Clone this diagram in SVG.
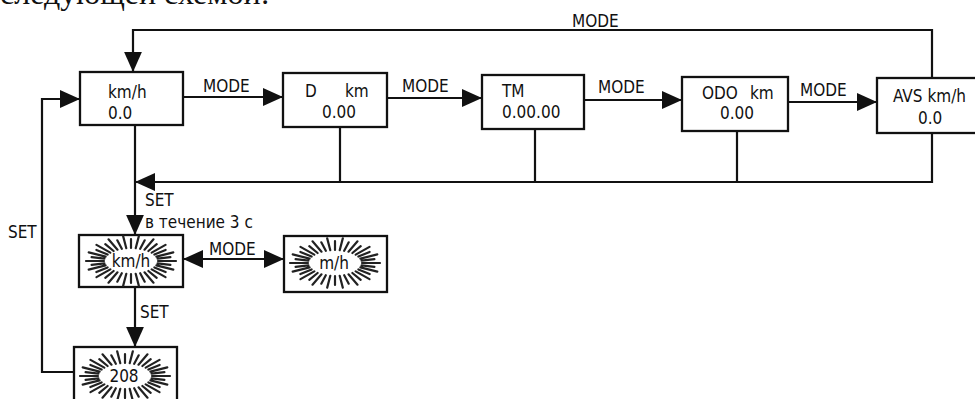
<svg xmlns="http://www.w3.org/2000/svg" width="975" height="399" viewBox="0 0 975 399">
<style>
.box{fill:#fff;stroke:#111;stroke-width:2.3}
.ln{fill:none;stroke:#111;stroke-width:2.2}
.t{font-family:"DejaVu Sans Condensed","DejaVu Sans",sans-serif;font-size:17px;fill:#111}
.ray{fill:none;stroke:#222;stroke-width:2.2;stroke-linecap:round}
</style>
<defs>
<marker id="arr" markerUnits="userSpaceOnUse" markerWidth="20" markerHeight="18" refX="18" refY="8" orient="auto-start-reverse" viewBox="0 0 18 16">
<path d="M0 0L18 8L0 16z" fill="#111"/>
</marker>
<g id="burst" class="ray">
<path d="M27 0L45 0M26.6 2.3L39.4 3.8M25.4 4.4L42.3 8.6M23.4 6.5L34.6 11M20.7 8.4L34.5 16.1M17.4 10L25.7 16.9M13.5 11.3L22.5 21.7M9.2 12.2L13.7 20.7M4.7 12.8L7.8 24.6M0 13L0 22M-4.7 12.8L-7.8 24.6M-9.2 12.2L-13.7 20.7M-13.5 11.3L-22.5 21.7M-17.4 10L-25.7 16.9M-20.7 8.4L-34.5 16.1M-23.4 6.5L-34.6 11M-25.4 4.4L-42.3 8.6M-26.6 2.3L-39.4 3.8M-27 0L-45 0M-26.6 -2.3L-39.4 -3.8M-25.4 -4.4L-42.3 -8.6M-23.4 -6.5L-34.6 -11M-20.7 -8.4L-34.5 -16.1M-17.4 -10L-25.7 -16.9M-13.5 -11.3L-22.5 -21.7M-9.2 -12.2L-13.7 -20.7M-4.7 -12.8L-7.8 -24.6M0 -13L0 -22M4.7 -12.8L7.8 -24.6M9.2 -12.2L13.7 -20.7M13.5 -11.3L22.5 -21.7M17.4 -10L25.7 -16.9M20.7 -8.4L34.5 -16.1M23.4 -6.5L34.6 -11M25.4 -4.4L42.3 -8.6M26.6 -2.3L39.4 -3.8"/>
</g>
</defs>
<rect width="975" height="399" fill="#fff"/>
<text x="0" y="4" font-family="Liberation Serif, serif" font-size="32" fill="#111">следующей схемой:</text>

<g id="connectors">
<path class="ln" d="M932 78V30H133V72" marker-end="url(#arr)"/>
<path class="ln" d="M183 97H283" marker-end="url(#arr)"/>
<path class="ln" d="M387 98H482" marker-end="url(#arr)"/>
<path class="ln" d="M584 100H682" marker-end="url(#arr)"/>
<path class="ln" d="M788 102H877" marker-end="url(#arr)"/>
<path class="ln" d="M932 133V182H135" marker-end="url(#arr)"/>
<path class="ln" d="M340 127V182M535 129V182M737 131V182"/>
<path class="ln" d="M135 125V235" marker-end="url(#arr)"/>
<path class="ln" d="M183 259H284" marker-start="url(#arr)" marker-end="url(#arr)"/>
<path class="ln" d="M135 287V347" marker-end="url(#arr)"/>
<path class="ln" d="M74 372H42V99H80" marker-end="url(#arr)"/>
<text class="t" x="572" y="27">MODE</text>
<text class="t" x="203" y="92">MODE</text>
<text class="t" x="402" y="92">MODE</text>
<text class="t" x="598" y="93">MODE</text>
<text class="t" x="800" y="96">MODE</text>
<text class="t" x="145" y="206">SET</text>
<text class="t" x="145" y="228">в течение 3 с</text>
<text class="t" x="209" y="255">MODE</text>
<text class="t" x="140" y="318">SET</text>
<text class="t" x="8" y="238">SET</text>
</g>

<g id="n-kmh">
<rect class="box" x="80" y="72" width="103" height="53"/>
<text class="t" x="108" y="98">km/h</text>
<text class="t" x="108" y="119">0.0</text>
</g>
<g id="n-d">
<rect class="box" x="283" y="73" width="104" height="54"/>
<text class="t" x="305" y="97">D</text>
<text class="t" x="345" y="97">km</text>
<text class="t" x="322" y="118">0.00</text>
</g>
<g id="n-tm">
<rect class="box" x="482" y="75" width="102" height="54"/>
<text class="t" x="502" y="97">TM</text>
<text class="t" x="502" y="118">0.00.00</text>
</g>
<g id="n-odo">
<rect class="box" x="682" y="77" width="106" height="54"/>
<text class="t" x="702" y="99">ODO</text>
<text class="t" x="750" y="99">km</text>
<text class="t" x="720" y="119">0.00</text>
</g>
<g id="n-avs">
<rect class="box" x="877" y="78" width="110" height="55"/>
<text class="t" x="893" y="102">AVS km/h</text>
<text class="t" x="918" y="124">0.0</text>
</g>
<g id="n-kmh-blink">
<rect class="box" x="79" y="235" width="104" height="52"/>
<use href="#burst" x="131" y="261"/>
<text class="t" x="131" y="267" text-anchor="middle">km/h</text>
</g>
<g id="n-mh-blink">
<rect class="box" x="284" y="236" width="103" height="56"/>
<use href="#burst" x="335" y="263"/>
<text class="t" x="334" y="269" text-anchor="middle">m/h</text>
</g>
<g id="n-208">
<rect class="box" x="74" y="347" width="103" height="56"/>
<use href="#burst" x="125" y="376"/>
<text class="t" x="124" y="382" text-anchor="middle">208</text>
</g>
</svg>
